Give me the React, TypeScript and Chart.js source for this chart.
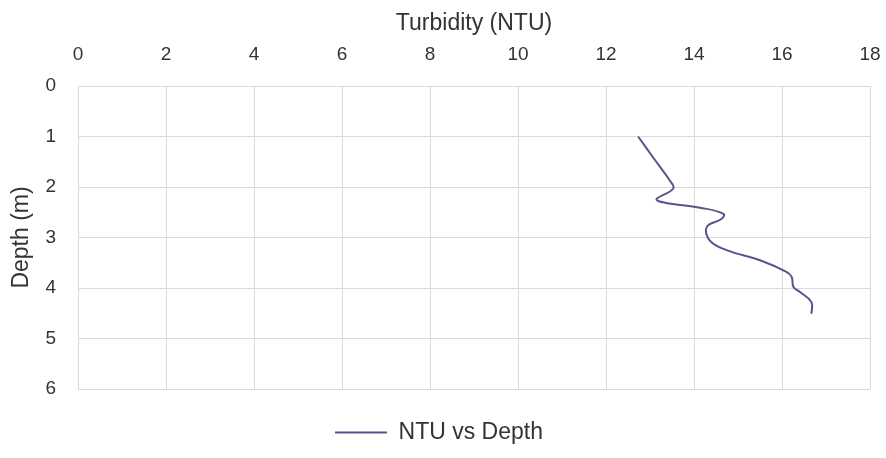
import React, { useEffect, useRef } from "react";
import { Chart, registerables } from "chart.js";

Chart.register(...registerables);

const turbidity = [12.73, 13.1, 13.45, 13.53, 13.15, 13.34, 14.14, 14.67, 14.63, 14.29, 14.36, 14.74, 15.5, 16.1, 16.22, 16.26, 16.41, 16.67, 16.67];
const depth = [1.0, 1.45, 1.87, 2.03, 2.24, 2.31, 2.41, 2.53, 2.63, 2.79, 3.06, 3.25, 3.45, 3.68, 3.78, 3.98, 4.08, 4.28, 4.51];
const seriesLabel = "NTU vs Depth";
const xTitle = "Turbidity (NTU)";
const yTitle = "Depth (m)";

export default function App() {
  const ref = useRef<HTMLCanvasElement | null>(null);
  useEffect(() => {
    document.body.style.margin = "0";
    if (!ref.current) return;
    const font = "'Liberation Sans', Arial, sans-serif";
    const chart = new Chart(ref.current, {
      type: "scatter",
      data: {
        datasets: [
          {
            label: seriesLabel,
            data: turbidity.map((t, i) => ({ x: t, y: depth[i] })),
            showLine: true,
            tension: 0.4,
            borderColor: "#55558c",
            backgroundColor: "#55558c",
            borderWidth: 2,
            pointRadius: 0,
            pointHoverRadius: 0,
          },
        ],
      },
      options: {
        animation: false,
        responsive: true,
        maintainAspectRatio: false,
        layout: { padding: { left: 0, right: 16, top: 0, bottom: -4 } },
        plugins: {
          tooltip: { enabled: false },
          legend: {
            position: "bottom",
            labels: {
              usePointStyle: true,
              pointStyle: "line",
              pointStyleWidth: 52,
              padding: 32,
              color: "#333",
              font: { family: font, size: 23 },
            },
          },
        },
        scales: {
          x: {
            type: "linear",
            position: "top",
            min: 0,
            max: 18,
            ticks: { stepSize: 2, padding: 20, color: "#333", font: { family: font, size: 19 } },
            grid: { color: "#dadada", drawTicks: false },
            border: { color: "#dadada" },
            title: { display: true, text: xTitle, color: "#333", padding: { top: 2, bottom: 0 }, font: { family: font, size: 23 } },
            afterFit: (s: any) => {
              s.height = 78;
              s.paddingLeft = 0;
              s.paddingRight = 0;
            },
          },
          y: {
            type: "linear",
            reverse: true,
            min: 0,
            max: 6,
            ticks: { stepSize: 1, padding: 22, color: "#333", font: { family: font, size: 19 } },
            grid: { color: "#dadada", drawTicks: false },
            border: { color: "#dadada" },
            title: { display: true, text: yTitle, color: "#333", padding: 0, font: { family: font, size: 23 } },
            afterFit: (s: any) => {
              s.width = 70;
              s.paddingTop = 0;
              s.paddingBottom = 0;
            },
          },
        },
      },
    });
    return () => chart.destroy();
  }, []);
  return (
    <div style={{ width: 886, paddingLeft: 8, paddingTop: 8, boxSizing: "border-box" }}>
      <div style={{ width: 878, height: 442, position: "relative" }}>
        <canvas ref={ref} />
      </div>
    </div>
  );
}
